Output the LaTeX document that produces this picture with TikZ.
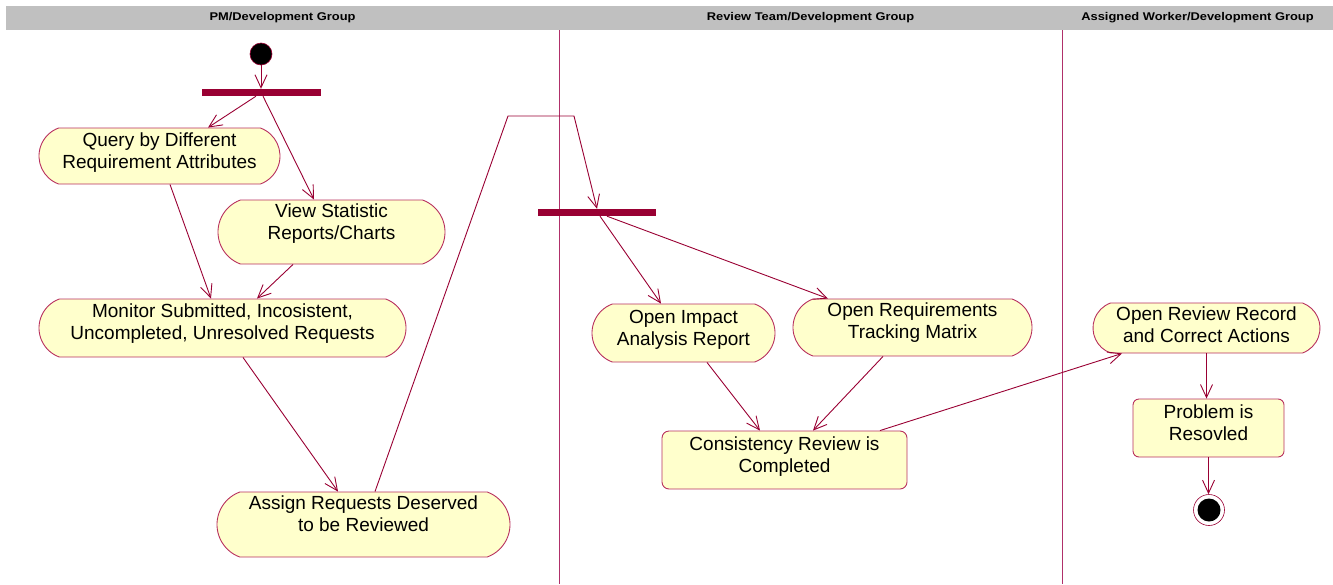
\documentclass[tikz,border=0pt]{standalone}
\usepackage{fontspec}
\setmainfont{Liberation Sans}
\newfontfamily\hdrfont[FakeStretch=1.15]{Liberation Sans}
\usetikzlibrary{arrows.meta,shapes.misc,calc}
\definecolor{crim}{HTML}{990033}
\definecolor{lanec}{HTML}{B0306A}
\definecolor{nodeborder}{HTML}{B8305E}
\definecolor{actfill}{HTML}{FFFFCC}
\definecolor{hdrgray}{HTML}{C0C0C0}
\begin{document}
\begin{tikzpicture}[x=1pt,y=-1pt,
 actv/.style={rounded rectangle, rounded rectangle arc length=140, draw=nodeborder, fill=actfill, line width=0.9pt, inner sep=0pt, align=center, font=\fontsize{19}{22}\selectfont},
 stbox/.style={rectangle, rounded corners=7pt, draw=nodeborder, fill=actfill, line width=0.9pt, inner sep=0pt, align=center, font=\fontsize{19}{22}\selectfont},
 forkbar/.style={rectangle, fill=crim, draw=none, minimum width=118pt, minimum height=7pt, inner sep=0pt},
 flow/.style={draw=crim, line width=0.9pt, -{Straight Barb[length=13pt,width=12pt]}},
 lane/.style={draw=lanec, line width=0.8pt},
 hdr/.style={font=\hdrfont\bfseries\fontsize{11.2}{12}\selectfont, inner sep=0pt}
]
\useasboundingbox (0,0) rectangle (1333,584);
\fill[hdrgray] (6,6) rectangle (1333,30);
\node[hdr] (h1) at (282.5,18) {PM/Development Group};
\node[hdr] (h2) at (810.5,18) {Review Team/Development Group};
\node[hdr] (h3) at (1197.5,18) {Assigned Worker/Development Group};
\draw[lane] (559,30) -- (559,584);
\draw[lane] (1062,30) -- (1062,584);

\node[circle, fill=black, draw=crim, line width=0.6pt, minimum size=22pt, inner sep=0pt] (start) at (261,54) {};
\node[forkbar, minimum width=119pt] (fork1) at (261.5,92.5) {};
\node[actv, minimum width=241pt, minimum height=56pt, text depth=11pt] (query) at (159.5,156) {Query by Different\\Requirement Attributes};
\node[actv, minimum width=227pt, minimum height=64pt, text depth=20pt] (view) at (331.5,232) {View Statistic\\Reports/Charts};
\node[actv, minimum width=367pt, minimum height=58pt, text depth=13pt] (monitor) at (222.5,328) {Monitor Submitted, Incosistent,\\Uncompleted, Unresolved Requests};
\node[actv, minimum width=293pt, minimum height=65pt, text depth=22pt] (assign) at (363.5,524.5) {Assign Requests Deserved\\to be Reviewed};
\node[forkbar] (fork2) at (597,212.5) {};
\node[actv, minimum width=183pt, minimum height=58pt, text depth=10pt] (impact) at (683.5,333) {Open Impact\\Analysis Report};
\node[actv, minimum width=239pt, minimum height=57pt, text depth=13pt] (openreq) at (912.5,327.5) {Open Requirements\\Tracking Matrix};
\node[stbox, minimum width=245pt, minimum height=58pt, text depth=10pt] (consist) at (784.5,460) {Consistency Review is\\Completed};
\node[actv, minimum width=227pt, minimum height=50pt, text depth=7pt] (openrev) at (1206.5,328) {Open Review Record\\and Correct Actions};
\node[stbox, minimum width=151pt, minimum height=58pt, text depth=10pt, rounded corners=6pt] (problem) at (1208.5,428) {Problem is\\Resovled};
\node[circle, draw=crim, line width=0.6pt, fill=white, minimum size=31pt, inner sep=0pt] (finish) at (1209,510) {};
\node[circle, fill=black, minimum size=23pt, inner sep=0pt] (finishdot) at (finish) {};

\coordinate (b1) at (508,116);
\coordinate (b2) at (574,116);
\draw[flow] (start.south) -- (start.south |- fork1.north);
\draw[flow] ([xshift=-5.5pt]fork1.south) -- ([xshift=48.5pt]query.north);
\draw[flow] ([xshift=1.5pt]fork1.south) -- ([xshift=-17.5pt]view.north);
\draw[flow] ([xshift=10.5pt]query.south) -- ([xshift=-11.5pt]monitor.north);
\draw[flow] ([xshift=-38.5pt]view.south) -- ([xshift=34.5pt]monitor.north);
\draw[flow] ([xshift=20.5pt]monitor.south) -- ([xshift=-25.5pt]assign.north);
\draw[flow] ([xshift=11.5pt]assign.north) -- (b1) -- (b2) -- (fork2.north);
\draw[flow] ([xshift=3pt]fork2.south) -- ([xshift=-22.5pt]impact.north);
\draw[flow] ([xshift=10pt]fork2.south) -- ([xshift=-84.5pt]openreq.north);
\draw[flow] ([xshift=23.5pt]impact.south) -- ([xshift=-24.5pt]consist.north);
\draw[flow] ([xshift=-29.5pt]openreq.south) -- ([xshift=28.5pt]consist.north);
\draw[flow] ([xshift=95.5pt]consist.north) -- ([xshift=-84.5pt]openrev.south);
\draw[flow] (openrev.south) -- (openrev.south |- problem.north);
\draw[flow] (problem.south) -- (problem.south |- finish.north);
\end{tikzpicture}
\end{document}
